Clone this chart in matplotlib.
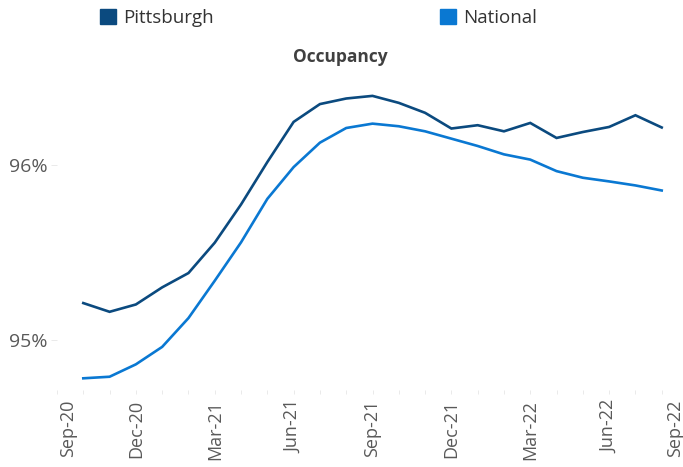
import matplotlib
matplotlib.use("Agg")
import matplotlib.pyplot as plt
import matplotlib.transforms as mtransforms
from matplotlib.patches import Patch
from matplotlib.ticker import FuncFormatter

plt.rcParams["font.family"] = ["Open Sans", "DejaVu Sans"]

# monthly index: 0 = Sep-20
months = list(range(1, 24))  # Oct-20 .. Aug-22
pittsburgh = [95.211, 95.161, 95.203, 95.301, 95.383, 95.557, 95.776, 96.019,
              96.249, 96.351, 96.383, 96.398, 96.358, 96.301, 96.211, 96.230,
              96.195, 96.243, 96.157, 96.191, 96.220, 96.287, 96.217]
national = [94.780, 94.789, 94.860, 94.960, 95.125, 95.339, 95.559, 95.808,
            95.990, 96.130, 96.214, 96.239, 96.224, 96.195, 96.153, 96.111,
            96.063, 96.033, 95.967, 95.929, 95.908, 95.885, 95.856]
tick_pos = [0, 3, 6, 9, 12, 15, 18, 21, 24]
tick_labels = ["Sep-20", "Dec-20", "Mar-21", "Jun-21", "Sep-21",
               "Dec-21", "Mar-22", "Jun-22", "Sep-22"]

c_pitt = "#0B4A7F"
c_nat = "#0A78D2"
grey = "#595959"

fig = plt.figure(figsize=(6.83, 4.67), dpi=100)
W, H = 683, 467
left, right, top, bottom = 57, 688, 80, 390
ax = fig.add_axes([left / W, (H - bottom) / H, (right - left) / W, (bottom - top) / H])

ax.plot(months, pittsburgh, color=c_pitt, lw=1.9, solid_joinstyle="miter")
ax.plot(months, national, color=c_nat, lw=1.9, solid_joinstyle="miter")

ax.set_xlim(0, 24)
ax.set_ylim(94.713, 96.489)
ax.set_yticks([95, 96])
ax.yaxis.set_major_formatter(FuncFormatter(lambda v, p: f"{v:.0f}%"))
ax.set_xticks(range(0, 25), minor=True)
ax.set_xticks(tick_pos)
ax.set_xticklabels(tick_labels, rotation=90)

for s in ax.spines.values():
    s.set_visible(False)
ax.tick_params(axis="y", length=4, width=0.6, color="#E6E6E6", labelsize=14,
               labelcolor=grey, pad=3)
ax.tick_params(axis="x", which="both", length=3, width=0.6, color="#E6E6E6",
               labelsize=13, labelcolor=grey, pad=4, direction="out")

# nudge end labels inward as in the source
labs = ax.get_xticklabels()
labs[0].set_transform(labs[0].get_transform() + mtransforms.ScaledTranslation(11 / 100, 0, fig.dpi_scale_trans))
labs[-1].set_transform(labs[-1].get_transform() + mtransforms.ScaledTranslation(-13 / 100, 0, fig.dpi_scale_trans))

fig.text(340 / W, 1 - 57 / H, "Occupancy", ha="center", va="center",
         fontsize=12.5, fontweight="bold", color="#404040")

for name, col, x in [("Pittsburgh", c_pitt, 100), ("National", c_nat, 440)]:
    leg = fig.legend(handles=[Patch(facecolor=col, edgecolor=col, label=name)],
                     loc="center left", bbox_to_anchor=(x / W, 1 - 18 / H),
                     frameon=False, fontsize=13.5, handlelength=0.85, handleheight=0.85,
                     handletextpad=0.4, borderpad=0, borderaxespad=0)
    for t in leg.get_texts():
        t.set_color("#333333")

fig.savefig("out.png", dpi=100)
